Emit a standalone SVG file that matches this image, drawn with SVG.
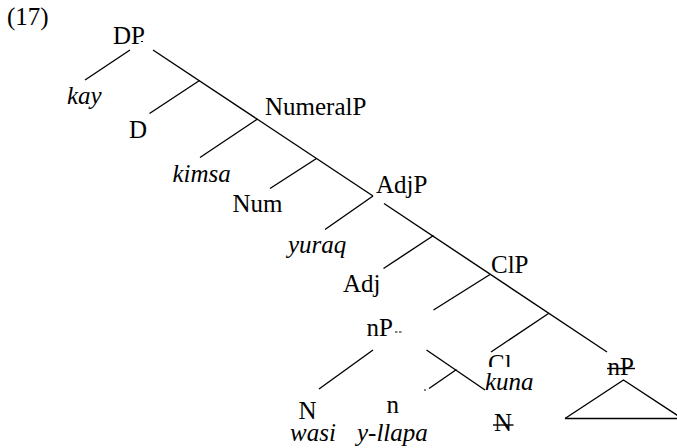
<svg xmlns="http://www.w3.org/2000/svg" width="677" height="448" viewBox="0 0 677 448" font-family="'Liberation Serif', 'Times New Roman', 'DejaVu Serif', serif">
  <style>
    text { font-family: "Liberation Serif", "Times New Roman", "DejaVu Serif", serif; font-size: 25px; fill: #000; }
    .it { font-style: italic; }
    .edge { stroke: #000; stroke-width: 1.4; fill: none; stroke-linecap: butt; }
    .strike { stroke: #000; stroke-width: 1.4; }
    .mark { stroke: #000; stroke-width: 1; }
  </style>
  <defs>
    <clipPath id="clUpper"><rect x="480" y="340" width="40" height="27"/></clipPath>
  </defs>

  <rect width="677" height="448" fill="#fff"/>

  <g id="example-number"><text x="7" y="25">(17)</text></g>

  <!-- tree branches -->
  <g id="connectors">
    <!-- main right-branching spine -->
    <line class="edge" x1="153" y1="50" x2="373" y2="196"/>
    <line class="edge" x1="384" y1="203.5" x2="607" y2="352"/>
    <!-- DP -->
    <line class="edge" x1="130" y1="50" x2="85" y2="80"/>
    <line class="edge" x1="199.5" y1="80.5" x2="149.5" y2="113.5"/>
    <!-- NumeralP -->
    <line class="edge" x1="257.5" y1="119" x2="200" y2="157.5"/>
    <line class="edge" x1="316.5" y1="158.5" x2="270" y2="188.5"/>
    <!-- AdjP -->
    <line class="edge" x1="373" y1="196" x2="325" y2="229.5"/>
    <line class="edge" x1="433.5" y1="235.5" x2="383.5" y2="268.5"/>
    <!-- ClP -->
    <line class="edge" x1="490" y1="274.5" x2="433.5" y2="310"/>
    <line class="edge" x1="548.5" y1="313.5" x2="491" y2="352"/>
    <!-- nP -->
    <line class="edge" x1="373" y1="350" x2="319" y2="389"/>
    <line class="edge" x1="426.5" y1="350" x2="485" y2="390"/>
    <line class="edge" x1="456.5" y1="369.5" x2="429" y2="388.5"/>
    <line class="mark" x1="424" y1="390" x2="426" y2="390"/>
    <!-- elided nP -->
    <polyline class="edge" points="565,418.5 623.5,380 682,418.5"/>
    <line class="edge" x1="565" y1="418.5" x2="677" y2="418.5"/>
  </g>

  <g id="DP">
    <text x="113" y="43.5">DP</text>
    <line class="mark" x1="141" y1="41.5" x2="143" y2="41.5"/>
  </g>
  <g id="kay"><text class="it" x="67" y="104">kay</text></g>
  <g id="D"><text x="129" y="137.5">D</text></g>
  <g id="NumeralP"><text x="265" y="115">NumeralP</text></g>
  <g id="kimsa"><text class="it" x="172.5" y="181.5">kimsa</text></g>
  <g id="Num"><text x="232.5" y="211.5">Num</text></g>
  <g id="AdjP"><text x="376" y="193">AdjP</text></g>
  <g id="yuraq"><text class="it" x="288" y="253">yuraq</text></g>
  <g id="Adj"><text x="343" y="292">Adj</text></g>
  <g id="ClP"><text x="491" y="272.5">ClP</text></g>
  <g id="nP">
    <text x="366.5" y="336">nP</text>
    <line class="mark" x1="395" y1="332" x2="397.5" y2="332"/>
    <line class="mark" x1="399" y1="332" x2="401.5" y2="332"/>
  </g>
  <g id="Cl"><text x="488" y="372" clip-path="url(#clUpper)">Cl</text></g>
  <g id="kuna"><text class="it" x="485" y="390">kuna</text></g>
  <g id="nP-elided">
    <text x="607.5" y="375">nP</text>
    <line class="strike" x1="607" y1="368.5" x2="635" y2="368.5"/>
  </g>
  <g id="N"><text x="298.5" y="418.5">N</text></g>
  <g id="wasi"><text class="it" x="290" y="441">wasi</text></g>
  <g id="n"><text x="386.5" y="413">n</text></g>
  <g id="y-llapa"><text class="it" x="357" y="441">y-llapa</text></g>
  <g id="N-elided">
    <text x="494" y="431">N</text>
    <line class="strike" x1="493" y1="425" x2="513.5" y2="425"/>
  </g>
</svg>
